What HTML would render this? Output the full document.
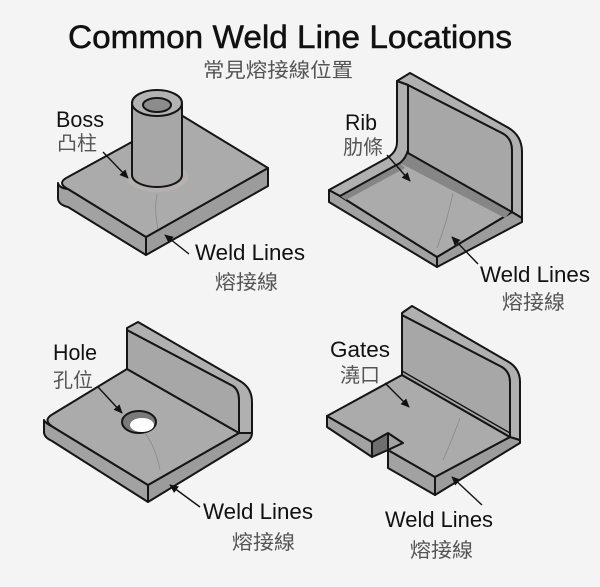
<!DOCTYPE html>
<html><head><meta charset="utf-8"><style>
html,body{margin:0;padding:0;background:#f4f4f4;}
svg{display:block;}
.o{stroke:#151515;stroke-width:2;stroke-linejoin:round;}
.t{fill:#ababab;}
.s{fill:#a2a2a2;}
.r{fill:#b0b0b0;}
.w{fill:#a7a7a7;}
.d{fill:#868686;}
.lab{font-family:"Liberation Sans",sans-serif;font-size:22px;fill:#111;}
.cjk{font-family:"Liberation Sans","Noto Sans CJK TC",sans-serif;font-size:20px;fill:#555;}
.ar{stroke:#111;stroke-width:1.4;fill:none;}
.cr{stroke:#8a8a8a;stroke-width:0.8;fill:none;}
</style></head><body>
<svg width="600" height="587" viewBox="0 0 600 587" xmlns="http://www.w3.org/2000/svg">
<defs>
<marker id="a" viewBox="0 0 10 10" refX="9" refY="5" markerUnits="userSpaceOnUse" markerWidth="9" markerHeight="9" orient="auto"><path d="M0,0.5 L10,5 L0,9.5 z" fill="#111"/></marker>
</defs>
<rect width="600" height="587" fill="#f4f4f4"/>

<!-- Title -->
<text x="68" y="48" font-family="Liberation Sans, sans-serif" font-size="32" fill="#111" stroke="#111" stroke-width="0.5" textLength="444" lengthAdjust="spacingAndGlyphs">Common Weld Line Locations</text>
<text x="203" y="77" class="cjk" font-size="20" textLength="150" lengthAdjust="spacingAndGlyphs">常見熔接線位置</text>

<!-- ===== Boss ===== -->
<path class="o s" d="M58,183 L58,199 Q59,205 68,207 L146,255 L146,237 L68,189 Q59,188 58,183 Z"/>
<path class="o s" style="fill:#9c9c9c" d="M146,237 L268,168 L268,186 L146,255 Z"/>
<path class="o t" d="M68,177 L181,115 L268,168 L146,237 L68,189 Q56,183 68,177 Z"/>
<ellipse cx="157" cy="177" rx="31" ry="15" fill="#b6b0b0"/>
<path class="o w" d="M132,103 L132,175 A25,12 0 0 0 182,175 L182,103 Z"/>
<ellipse class="o" cx="157" cy="103" rx="25" ry="13" fill="#b3b3b3"/>
<ellipse class="o" cx="157" cy="105" rx="14" ry="7" fill="#8c8c8c" stroke-width="1.6"/>
<path class="cr" d="M157,194 Q154,210 158,229"/>
<line class="ar" x1="103" y1="152" x2="128" y2="178" marker-end="url(#a)"/>
<line class="ar" x1="189" y1="254" x2="165" y2="235" marker-end="url(#a)"/>
<text x="56" y="127" class="lab" textLength="48" lengthAdjust="spacingAndGlyphs">Boss</text>
<text x="57" y="150" class="cjk" textLength="40" lengthAdjust="spacingAndGlyphs">凸柱</text>
<text x="195" y="260" class="lab" textLength="110" lengthAdjust="spacingAndGlyphs">Weld Lines</text>
<text x="215" y="289" class="cjk" textLength="63" lengthAdjust="spacingAndGlyphs">熔接線</text>

<!-- ===== Rib ===== -->
<path class="o s" d="M329,190 L340,196 L437,257 L437,267 L329,202 Z"/>
<path class="o s" style="fill:#9c9c9c" d="M437,257 L512,212 L522,218 L522,222 L437,267 Z"/>
<path class="o t" d="M340,196 L405,160 L512,212 L437,257 Z"/>
<path class="d" d="M340,196 L400,163 L405,168 L346,200 Z"/>
<path class="d" d="M400,163 L408,153 L512,210 L505,218 Z"/>
<path class="o w" d="M408,85 L502,133 Q512,138 512,150 L512,212 L408,153 Z"/>
<path class="o r" d="M397,81 L410,73 L507,127 Q522,135 522,152 L522,218 L512,212 L512,150 Q512,138 502,133 L408,85 Z"/>
<path class="o r" d="M397,81 L408,85 L408,150 Q406,158 400,163 L340,196 L329,190 L387,158 Q397,152 397,142 Z"/>
<path class="cr" d="M453,193 Q447,222 437,248"/>
<line class="ar" x1="387" y1="155" x2="410" y2="181" marker-end="url(#a)"/>
<line class="ar" x1="478" y1="264" x2="452" y2="237" marker-end="url(#a)"/>
<text x="345" y="130" class="lab" textLength="32" lengthAdjust="spacingAndGlyphs">Rib</text>
<text x="343" y="154" class="cjk" textLength="40" lengthAdjust="spacingAndGlyphs">肋條</text>
<text x="480" y="282" class="lab" textLength="110" lengthAdjust="spacingAndGlyphs">Weld Lines</text>
<text x="502" y="309" class="cjk" textLength="63" lengthAdjust="spacingAndGlyphs">熔接線</text>

<!-- ===== Hole ===== -->
<path class="o s" d="M44,420 L44,433 Q45,438 52,441 L148,502 L148,485 L53,427 Q45,423 44,420 Z"/>
<path class="o s" style="fill:#9c9c9c" d="M148,485 L239,433 L252,433 Q252,438 248,441 L148,502 Z"/>
<path class="o t" d="M127,369 L239,433 L148,485 L53,427 Q42,420 53,414 Z"/>
<path class="o w" d="M127,330 L233,386 Q239,390 239,400 L239,433 L127,369 Z"/>
<path class="o r" d="M127,328 L138,322 L240,381 Q252,388 252,402 L252,433 L239,433 L239,400 Q239,390 233,386 L127,330 Z"/>
<ellipse class="o" cx="139" cy="422" rx="17" ry="11" fill="#7a7a7a" stroke-width="1.8"/>
<ellipse cx="142" cy="425" rx="12" ry="7" fill="#ffffff"/>
<path class="cr" d="M145,433 Q156,448 160,470"/>
<line class="ar" x1="98" y1="387" x2="122" y2="413" marker-end="url(#a)"/>
<line class="ar" x1="200" y1="507" x2="170" y2="485" marker-end="url(#a)"/>
<text x="53" y="360" class="lab" textLength="44" lengthAdjust="spacingAndGlyphs">Hole</text>
<text x="53" y="387" class="cjk" textLength="40" lengthAdjust="spacingAndGlyphs">孔位</text>
<text x="203" y="519" class="lab" textLength="110" lengthAdjust="spacingAndGlyphs">Weld Lines</text>
<text x="232" y="549" class="cjk" textLength="63" lengthAdjust="spacingAndGlyphs">熔接線</text>

<!-- ===== Gates ===== -->
<path class="o s" d="M327,416 L372,442 L372,457 L327,427 Z"/>
<path class="o" fill="#6e6e6e" d="M372,442 L388,433 L388,450 L372,457 Z"/>
<path class="o s" d="M388,433 L403,443 L388,450 Z"/>
<path class="o s" d="M388,450 L435,477 L435,495 L388,468 Z"/>
<path class="o s" style="fill:#9c9c9c" d="M435,477 L510,437 L520,440 L520,443 L435,495 Z"/>
<path class="o t" d="M327,416 L402,375 L510,437 L435,477 L388,450 L403,443 L388,433 L372,442 Z"/>
<path class="o w" d="M402,315 L502,367 Q510,372 510,382 L510,437 L402,375 Z"/>
<line x1="402" y1="371" x2="510" y2="433" stroke="#151515" stroke-width="1.4"/>
<path class="o r" d="M402,313 L412,306 L507,361 Q520,368 520,382 L520,440 L510,437 L510,382 Q510,372 502,367 L402,315 Z"/>
<path class="cr" d="M460,418 Q452,440 443,460"/>
<line class="ar" x1="385" y1="383" x2="409" y2="407" marker-end="url(#a)"/>
<line class="ar" x1="482" y1="505" x2="452" y2="477" marker-end="url(#a)"/>
<text x="330" y="357" class="lab" textLength="60" lengthAdjust="spacingAndGlyphs">Gates</text>
<text x="340" y="382" class="cjk" textLength="40" lengthAdjust="spacingAndGlyphs">澆口</text>
<text x="385" y="527" class="lab" textLength="108" lengthAdjust="spacingAndGlyphs">Weld Lines</text>
<text x="410" y="557" class="cjk" textLength="63" lengthAdjust="spacingAndGlyphs">熔接線</text>
</svg>
</body></html>
